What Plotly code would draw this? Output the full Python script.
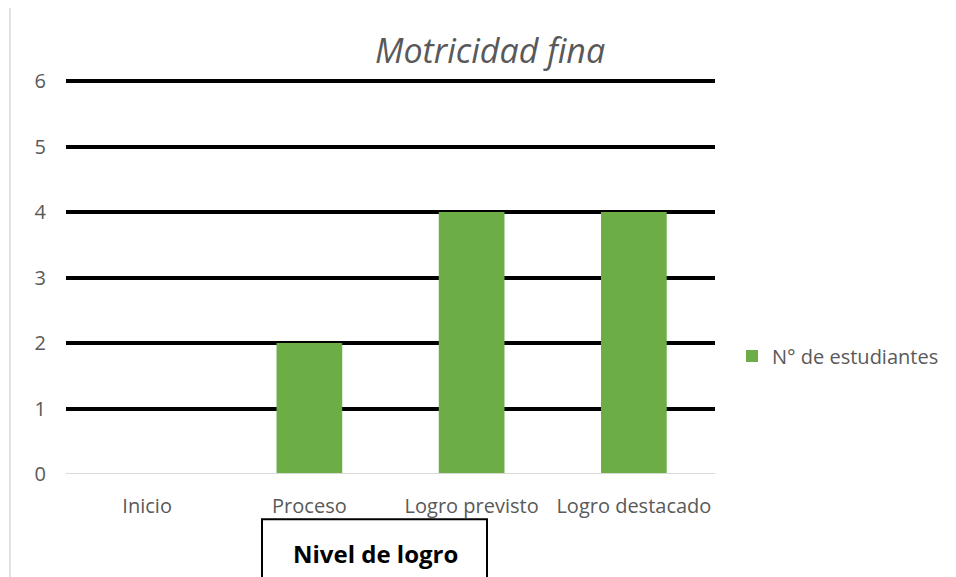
import plotly.graph_objects as go

categories = ["Inicio", "Proceso", "Logro previsto", "Logro destacado"]
values = [0, 2, 4, 4]
series_name = "N° de estudiantes"
title_text = "Motricidad fina"
axis_title = "Nivel de logro"
y_ticks = [0, 1, 2, 3, 4, 5, 6]

OFF = 8  # browser body margin
W, H = 956 - OFF, 577 - OFF
L, R, T, B = 66 - OFF, 715 - OFF, 81 - OFF, 474 - OFF

def px(x):
    return (x - OFF - L) / (R - L)

def py(y):
    return (B - (y - OFF)) / (B - T)

FONT = "Open Sans"
GRAY = "#595959"

fig = go.Figure()
fig.add_trace(go.Bar(
    x=categories, y=values, name=series_name,
    marker=dict(color="#6DAD46", line=dict(width=0)),
    showlegend=True,
))

fig.update_layout(
    width=W, height=H,
    margin=dict(l=L, r=W - R, t=T - 2, b=H - B),
    plot_bgcolor="white", paper_bgcolor="white",
    bargap=0.595,
    font=dict(family=FONT, color=GRAY, size=20),
    showlegend=True,
    legend=dict(
        xref="container", yref="container",
        x=(747 - OFF - 15) / W, y=1 - (356 - OFF) / H, xanchor="left", yanchor="middle",
        font=dict(size=20, color=GRAY, family=FONT),
        itemwidth=30,
    ),
    xaxis=dict(
        showgrid=False, showline=False, ticks="",
        tickfont=dict(size=20, color=GRAY),
        ticklabelstandoff=18,
    ),
    yaxis=dict(
        range=[0, 6 * (B - T + 2) / (B - T)], tickvals=y_ticks,
        showgrid=True, gridcolor="black", gridwidth=3.5,
        zeroline=False, showline=False, ticks="",
        tickfont=dict(size=20, color=GRAY),
        ticklabelstandoff=19,
    ),
)

# light zero baseline
fig.add_shape(type="line", xref="paper", yref="y", x0=0, x1=1, y0=0, y1=0,
              line=dict(color="#D9D9D9", width=2), layer="above")

# outer chart border
fig.add_shape(type="rect", xref="paper", yref="paper",
              x0=px(10), x1=px(1100), y0=py(700), y1=py(6),
              line=dict(color="#D9D9D9", width=1.5), layer="below")

# axis title box
fig.add_shape(type="rect", xref="paper", yref="paper",
              x0=px(262), x1=px(487), y0=py(640), y1=py(519),
              line=dict(color="black", width=2), fillcolor="white")
fig.add_annotation(xref="paper", yref="paper", x=px(375), y=py(553),
                   text="<b>" + axis_title + "</b>", showarrow=False,
                   font=dict(size=24, color="black", family=FONT),
                   xanchor="center", yanchor="middle")

# title
fig.add_annotation(xref="paper", yref="paper", x=px(490), y=py(52),
                   text="<i>" + title_text + "</i>", showarrow=False,
                   font=dict(size=34, color=GRAY, family=FONT),
                   xanchor="center", yanchor="middle")

fig.write_html("out.html")
